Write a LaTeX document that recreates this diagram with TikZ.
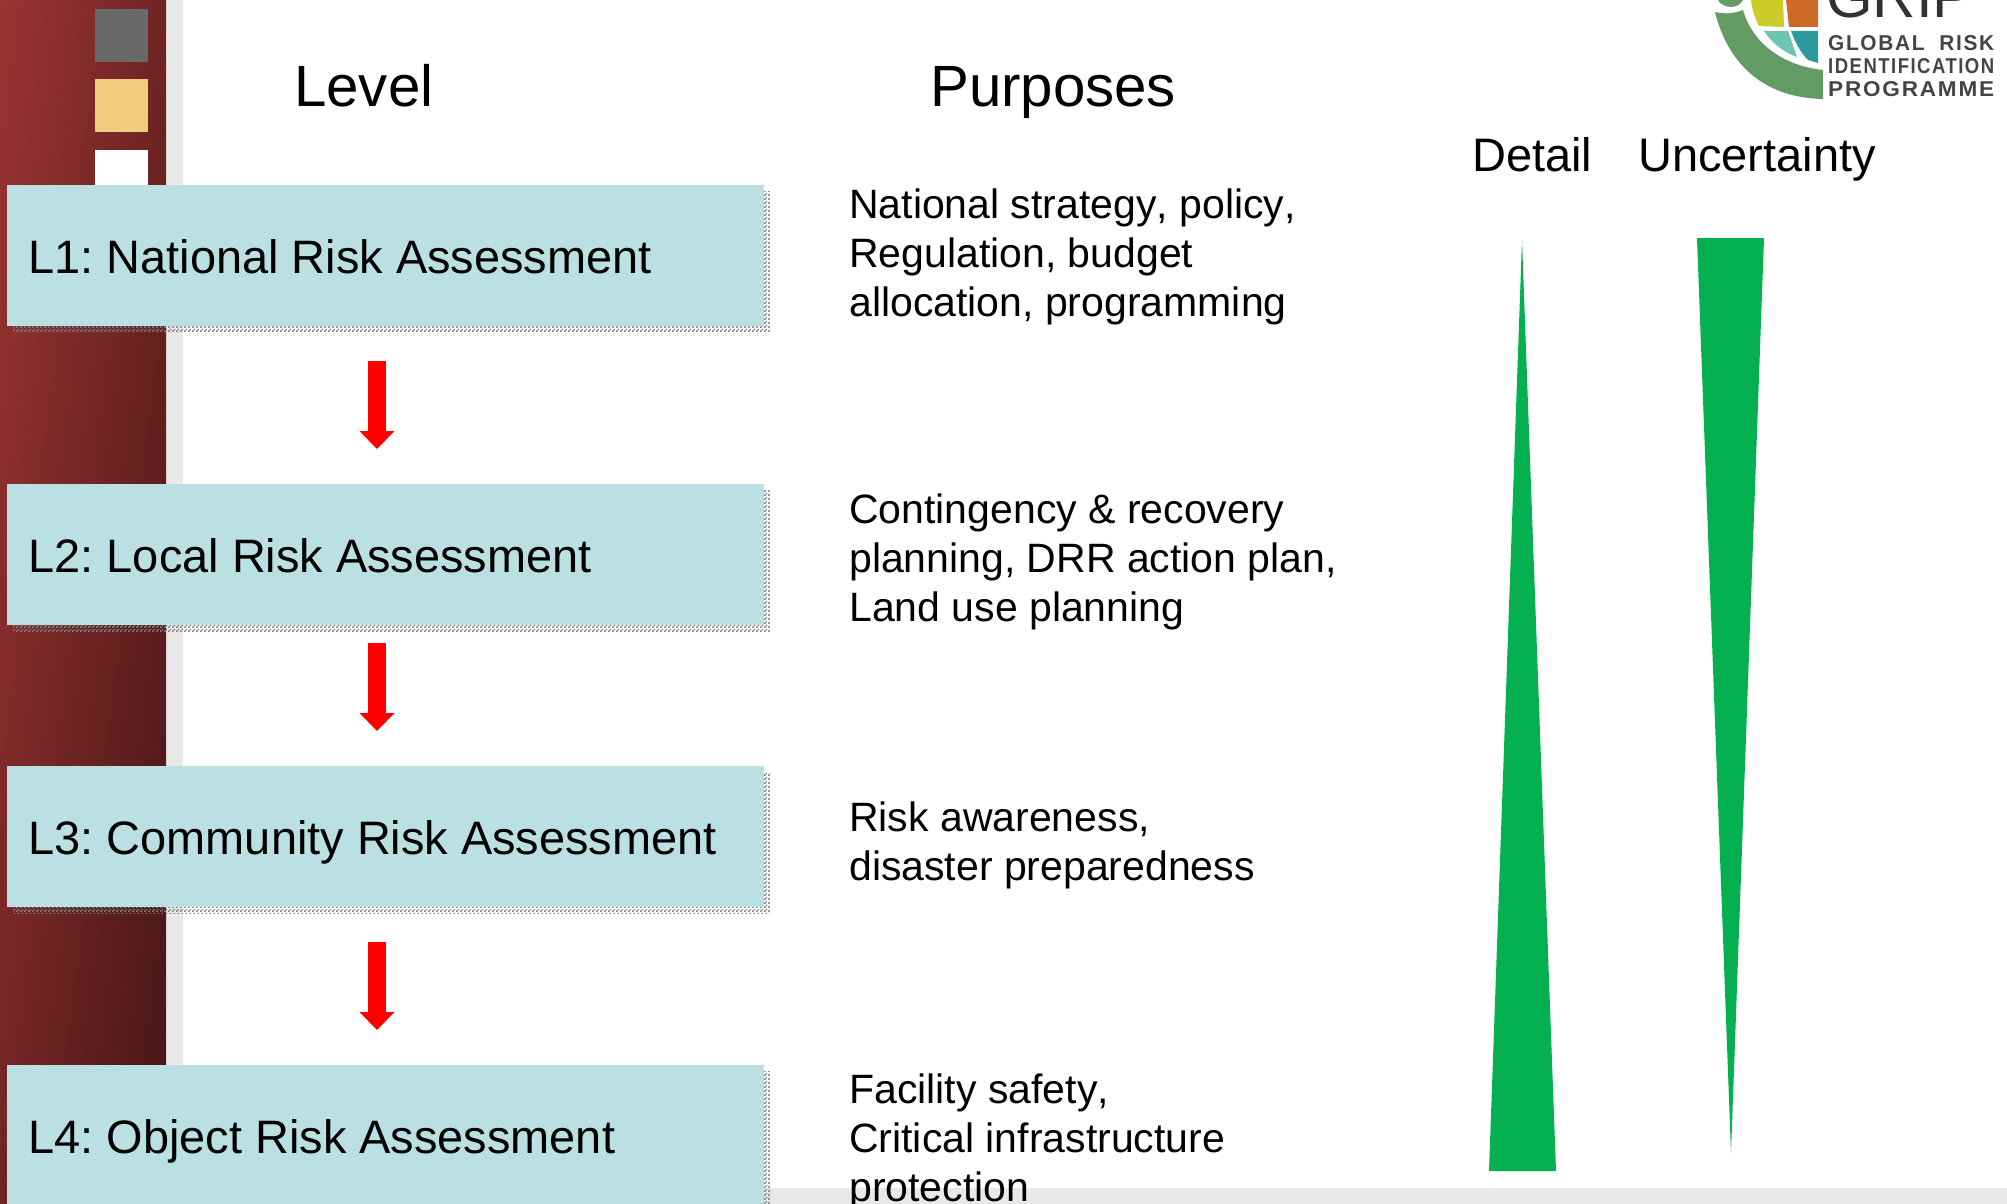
\documentclass[tikz,border=0pt]{standalone}
\usepackage{fontspec}
\setmainfont[Kerning=Off]{Liberation Sans}
\newfontfamily\logofont[LetterSpace=8]{Liberation Sans}
\usetikzlibrary{patterns,arrows.meta}
\definecolor{boxteal}{HTML}{BBE0E3}
\definecolor{tri}{HTML}{04B050}
\definecolor{strip}{HTML}{E9E9E9}
\definecolor{logogreen}{HTML}{649A64}
\definecolor{logodark}{HTML}{444444}
\definecolor{griptext}{HTML}{323232}
\definecolor{bandlight}{HTML}{9B3433}
\definecolor{banddark}{HTML}{451515}
\definecolor{tabgray}{HTML}{696969}
\definecolor{tabyellow}{HTML}{F2CC7E}
\definecolor{logoyellow}{HTML}{CCCC28}
\definecolor{logoorange}{HTML}{CE6A26}
\definecolor{logomint}{HTML}{6EC6B0}
\definecolor{logoteal}{HTML}{2C9A98}
\pgfdeclarepatternformonly{shadowchecks}{\pgfqpoint{0pt}{0pt}}{\pgfqpoint{4pt}{4pt}}{\pgfqpoint{4pt}{4pt}}{%
  \pgfpathrectangle{\pgfqpoint{0pt}{0pt}}{\pgfqpoint{2pt}{2pt}}%
  \pgfpathrectangle{\pgfqpoint{2pt}{2pt}}{\pgfqpoint{2pt}{2pt}}%
  \pgfusepath{fill}}
\newcommand\boxlabel[1]{\makebox[714pt][l]{\frenchspacing #1}}
\tikzset{
  levelbox/.style={fill=boxteal,minimum width=757pt,minimum height=141pt,anchor=north west,inner ysep=0pt,inner xsep=21.5pt,text height=36pt,text depth=0pt,font=\fontsize{46.9pt}{52pt}\selectfont},
  boxshadow/.style={pattern=shadowchecks,pattern color=black!50},
  headtext/.style={font=\fontsize{58.2pt}{60pt}\selectfont,anchor=base west,inner sep=0pt},
  purpose/.style={font=\fontsize{41pt}{49pt}\selectfont,anchor=base west,inner sep=0pt,align=left},
  sidetext/.style={font=\fontsize{47pt}{52pt}\selectfont,anchor=base west,inner sep=0pt},
  downarrow/.style={draw=red,line width=18pt,-{Triangle[width=34pt,length=18pt]}},
  logotext/.style={anchor=base west,inner sep=0pt,text=logodark,font=\logofont\bfseries\fontsize{20pt}{23pt}\selectfont},
  tabsquare/.style={minimum size=53pt,inner sep=0pt,anchor=north west}
}
\begin{document}
\begin{tikzpicture}[x=1pt,y=-1pt]
\useasboundingbox (0,0) rectangle (2007,1204);
\clip (0,0) rectangle (2007,1204);
% slide background
\fill[strip] (166,0) rectangle (183,1204);
\fill[strip] (183,1188) rectangle (2007,1204);
\begin{scope}
\clip (0,0) rectangle (166,1204);
\shade[transform canvas={rotate around={-7.5:(83,602)}},left color=bandlight,right color=banddark] (-78,-30) rectangle (244,1234);
\end{scope}
\node[tabsquare,fill=tabgray] (s1) at (95,9) {};
\node[tabsquare,fill=tabyellow] (s2) at (95,79) {};
\node[tabsquare,fill=white] (s3) at (95,150) {};
% shadows
\fill[boxshadow] (13,191) rectangle (770,332);
\fill[boxshadow] (13,490) rectangle (770,631);
\fill[boxshadow] (13,772) rectangle (770,913);
\fill[boxshadow] (13,1071) rectangle (770,1212);
% boxes
\node[levelbox] (l1) at (7,185) {\boxlabel{L1: National Risk Assessment}};
\node[levelbox] (l2) at (7,484) {\boxlabel{L2: Local Risk Assessment}};
\node[levelbox] (l3) at (7,766) {\boxlabel{L3: Community Risk Assessment}};
\node[levelbox] (l4) at (7,1065) {\boxlabel{L4: Object Risk Assessment}};
% arrows
\coordinate (a1) at (377,361); \coordinate (b1) at (377,449);
\coordinate (a2) at (377,643); \coordinate (b2) at (377,731);
\coordinate (a3) at (377,942); \coordinate (b3) at (377,1030);
\draw[downarrow] (a1) -- (b1);
\draw[downarrow] (a2) -- (b2);
\draw[downarrow] (a3) -- (b3);
% headings
\node[headtext] (hl) at (294,107) {Level};
\node[headtext] (hp) at (930,107) {Purposes};
\node[sidetext] (hd) at (1472,171) {Detail};
\node[sidetext] (hu) at (1638,171) {Uncertainty};
% purposes
\node[purpose] (p1) at (849,316) {National strategy, policy,\\Regulation, budget\\allocation, programming};
\node[purpose] (p2) at (849,621) {Contingency \& recovery\\planning, DRR action plan,\\Land use planning};
\node[purpose] (p3) at (849,880) {Risk awareness,\\disaster preparedness};
\node[purpose] (p4) at (849,1201) {Facility safety,\\Critical infrastructure\\protection};
% triangles
\fill[tri] (1522,240) -- (1556,1171) -- (1489,1171) -- cycle;
\fill[tri] (1697,238) -- (1764,238) -- (1731,1153) -- cycle;
% logo
\fill[logogreen] (1715,12) .. controls (1728,65) and (1765,98) .. (1823,99) -- (1823,70) .. controls (1785,66) and (1753,45) .. (1743,10) .. controls (1733,14) and (1724,14) .. (1715,12) -- cycle;
\fill[logogreen] (1716,-5) -- (1745,-5) .. controls (1743,10) and (1720,12) .. (1716,-5) -- cycle;
\fill[logoyellow] (1751,0) -- (1783,0) -- (1784,27) -- (1759,26) .. controls (1755,18) and (1752,10) .. (1751,0) -- cycle;
\fill[logoorange] (1786,0) -- (1818,0) -- (1818,27) -- (1789,27) -- cycle;
\fill[logomint] (1764,31) -- (1788,31) -- (1797,57) .. controls (1783,52) and (1772,43) .. (1764,31) -- cycle;
\fill[logoteal] (1791,31) -- (1818,31) -- (1818,63) -- (1808,60) .. controls (1800,52) and (1795,42) .. (1791,31) -- cycle;
\node[anchor=base west,inner sep=0pt,text=griptext,font=\fontsize{60pt}{64pt}\selectfont] (grip) at (1826,18) {GRIP};
\node[logotext] (g1) at (1828,51) {\resizebox{166pt}{15pt}{GLOBAL \ RISK}};
\node[logotext] (g2) at (1828,74) {\resizebox{166pt}{15pt}{IDENTIFICATION}};
\node[logotext] (g3) at (1828,97) {\resizebox{166pt}{15pt}{PROGRAMME}};
\end{tikzpicture}
\end{document}
